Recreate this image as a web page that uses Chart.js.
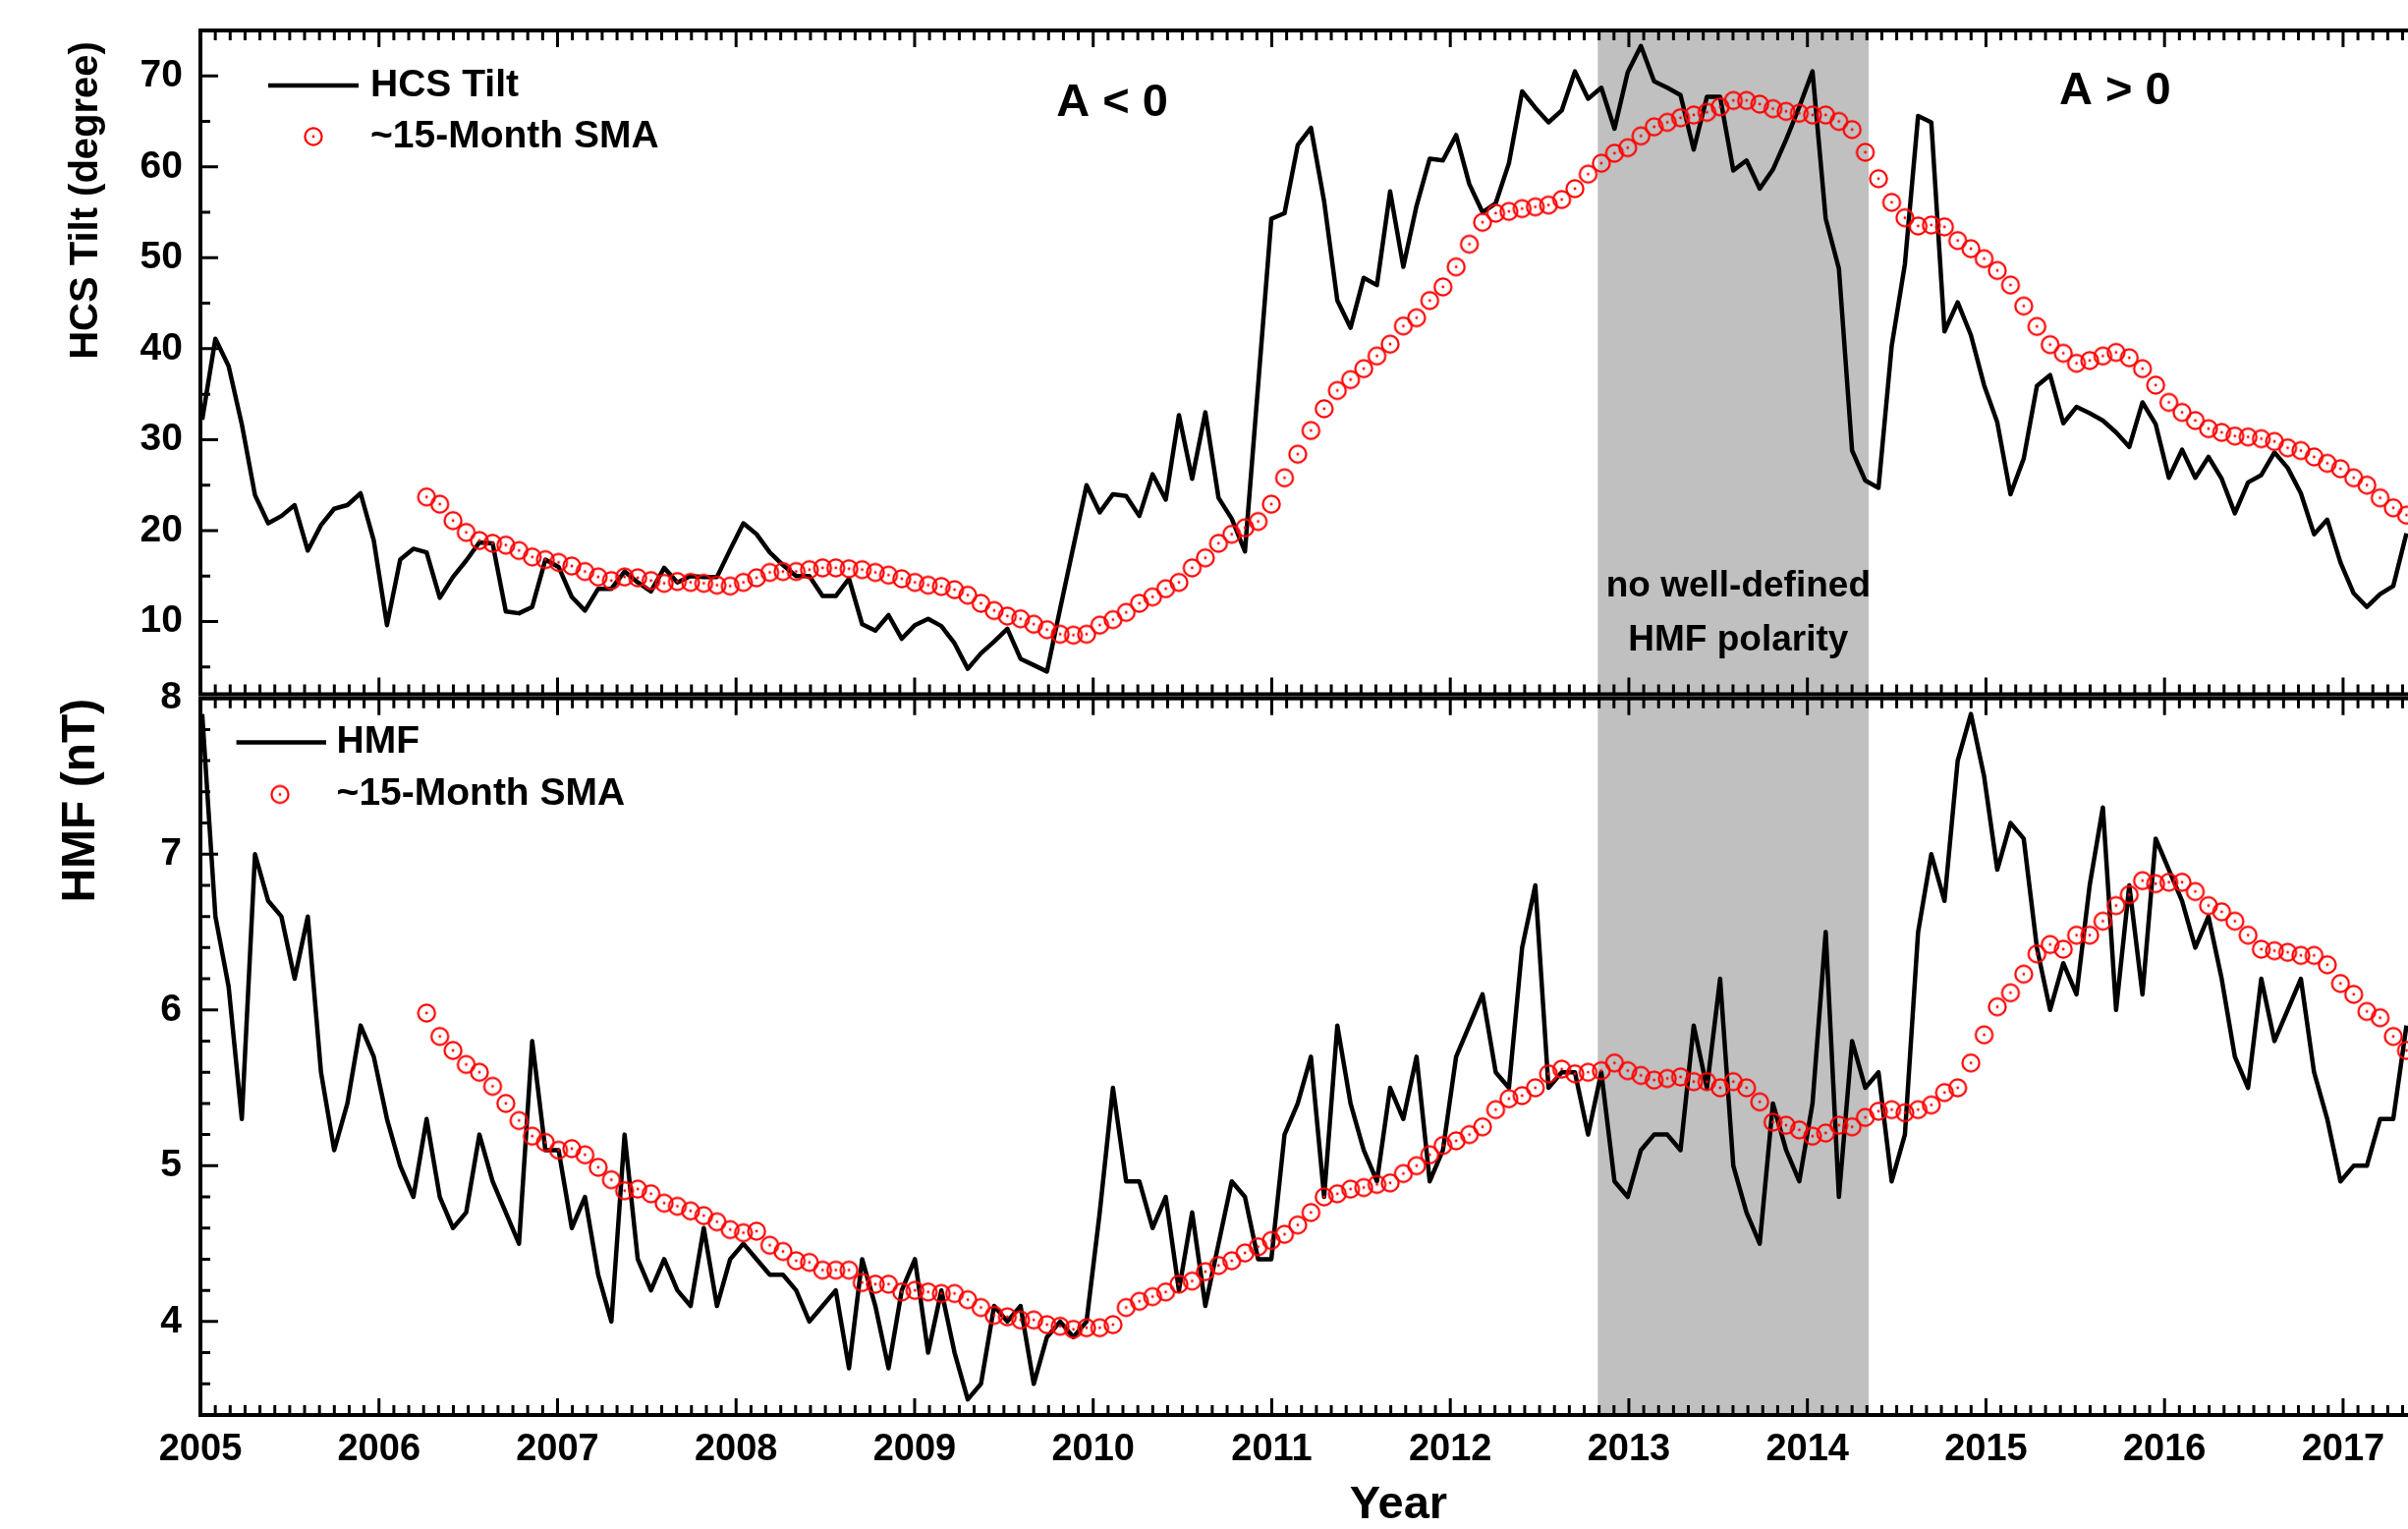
<!DOCTYPE html>
<html>
<head>
<meta charset="utf-8">
<title>HCS tilt and HMF, 2005-2017</title>
<script src="https://cdn.jsdelivr.net/npm/chart.js@4.4.0/dist/chart.umd.min.js"></script>
<style>
  html, body { margin: 0; padding: 0; background: #fff; overflow: hidden; }
  #wrap { position: relative; width: 2451px; height: 1556px; overflow: hidden; }
  #tilt_graph { position: absolute; left: 0; top: 0; }
  #hmf_graph { position: absolute; left: 0; top: 660px; }
</style>
</head>
<body>
<div id="wrap">
  <canvas id="tilt_graph" width="2700" height="720"></canvas>
  <canvas id="hmf_graph" width="2700" height="900"></canvas>
</div>
<script>
// 27-day rotations, first one just after 2005.0
const rotationStart = 2005.01;
const rotationYears = 27 / 365.25;
const smaStart = 17; // the moving average starts at rotation 17

const yearTicks = [2005, 2006, 2007, 2008, 2009, 2010, 2011, 2012, 2013, 2014, 2015, 2016, 2017, 2018];
const tiltTicks = [10, 20, 30, 40, 50, 60, 70];
const hmfTicks = [4, 5, 6, 7, 8];
const noPolarity = [2012.826, 2014.343];

const tiltValues = [
  32.2, 41.1, 38.1, 31.7, 23.9, 20.8, 21.6, 22.8, 17.8, 20.6,
  22.4, 22.8, 24.1, 18.9, 9.6, 16.8, 18.0, 17.6, 12.6, 14.9,
  16.7, 18.7, 18.6, 11.1, 10.9, 11.6, 16.8, 16.0, 12.7, 11.2,
  13.6, 13.6, 15.5, 14.3, 13.3, 15.9, 14.3, 15.0, 14.9, 14.9,
  17.9, 20.8, 19.6, 17.6, 16.2, 15.0, 15.0, 12.8, 12.8, 14.7,
  9.7, 9.0, 10.7, 8.1, 9.6, 10.3, 9.5, 7.6, 4.8, 6.5,
  7.8, 9.2, 5.9, 5.2, 4.5, 11.4, 18.2, 25.0, 22.0, 24.0,
  23.8, 21.6, 26.2, 23.4, 32.7, 25.7, 33.0, 23.6, 21.3, 17.7,
  36.0, 54.3, 54.9, 62.4, 64.3, 56.2, 45.3, 42.3, 47.8, 47.0,
  57.3, 49.0, 55.7, 60.9, 60.7, 63.5, 58.1, 55.0, 56.0, 60.4,
  68.3, 66.5, 64.9, 66.2, 70.5, 67.5, 68.7, 64.2, 70.4, 73.3,
  69.4, 68.7, 67.9, 61.9, 67.7, 67.7, 59.6, 60.7, 57.6, 59.7,
  63.0, 66.6, 70.5, 54.3, 48.8, 28.8, 25.5, 24.7, 40.3, 49.3,
  65.6, 64.9, 41.9, 45.1, 41.5, 36.0, 31.9, 24.0, 27.9, 35.9,
  37.1, 31.8, 33.6, 32.9, 32.1, 30.8, 29.2, 34.1, 31.7, 25.8,
  28.9, 25.8, 28.1, 25.7, 21.9, 25.3, 26.1, 28.6, 26.9, 24.1,
  19.6, 21.2, 16.5, 13.1, 11.6, 13.0, 13.9, 19.7
];

const tiltSmaValues = [
  23.7, 22.9, 21.1, 19.8, 18.9, 18.6, 18.4, 17.8, 17.1, 16.8,
  16.5, 16.1, 15.5, 14.9, 14.5, 14.9, 14.8, 14.5, 14.2, 14.4,
  14.3, 14.2, 14.0, 13.9, 14.3, 14.8, 15.4, 15.5, 15.5, 15.7,
  15.9, 15.9, 15.8, 15.7, 15.4, 15.1, 14.7, 14.3, 14.0, 13.85,
  13.5, 12.9, 12.0, 11.2, 10.6, 10.3, 9.7, 9.1, 8.6, 8.5,
  8.6, 9.6, 10.2, 11.0, 12.0, 12.7, 13.6, 14.3, 15.9, 17.0,
  18.6, 19.6, 20.3, 21.0, 22.9, 25.8, 28.4, 31.0, 33.4, 35.4,
  36.6, 37.8, 39.2, 40.5, 42.5, 43.4, 45.3, 46.8, 49.0, 51.5,
  53.9, 54.9, 55.1, 55.4, 55.6, 55.8, 56.4, 57.6, 59.2, 60.4,
  61.5, 62.1, 63.4, 64.4, 64.9, 65.4, 65.7, 66.0, 66.6, 67.3,
  67.3, 66.9, 66.4, 66.1, 65.9, 65.7, 65.7, 65.0, 64.1, 61.6,
  58.7, 56.1, 54.4, 53.5, 53.6, 53.4, 51.9, 51.0, 49.9, 48.6,
  47.0, 44.7, 42.45, 40.45, 39.5, 38.4, 38.7, 39.2, 39.6, 39.0,
  37.8, 36.0, 34.1, 33.0, 32.1, 31.2, 30.8, 30.4, 30.3, 30.1,
  29.8, 29.1, 28.8, 28.1, 27.4, 26.8, 25.8, 25.0, 23.6, 22.5,
  21.7
];

const hmfValues = [
  7.9, 6.6, 6.15, 5.3, 7.0, 6.7, 6.6, 6.2, 6.6, 5.6,
  5.1, 5.4, 5.9, 5.7, 5.3, 5.0, 4.8, 5.3, 4.8, 4.6,
  4.7, 5.2, 4.9, 4.7, 4.5, 5.8, 5.1, 5.1, 4.6, 4.8,
  4.3, 4.0, 5.2, 4.4, 4.2, 4.4, 4.2, 4.1, 4.6, 4.1,
  4.4, 4.5, 4.4, 4.3, 4.3, 4.2, 4.0, 4.1, 4.2, 3.7,
  4.4, 4.1, 3.7, 4.2, 4.4, 3.8, 4.2, 3.8, 3.5, 3.6,
  4.1, 4.0, 4.1, 3.6, 3.9, 4.0, 3.9, 4.0, 4.7, 5.5,
  4.9, 4.9, 4.6, 4.8, 4.2, 4.7, 4.1, 4.5, 4.9, 4.8,
  4.4, 4.4, 5.2, 5.4, 5.7, 4.8, 5.9, 5.4, 5.1, 4.9,
  5.5, 5.3, 5.7, 4.9, 5.1, 5.7, 5.9, 6.1, 5.6, 5.5,
  6.4, 6.8, 5.5, 5.6, 5.6, 5.2, 5.6, 4.9, 4.8, 5.1,
  5.2, 5.2, 5.1, 5.9, 5.5, 6.2, 5.0, 4.7, 4.5, 5.4,
  5.1, 4.9, 5.4, 6.5, 4.8, 5.8, 5.5, 5.6, 4.9, 5.2,
  6.5, 7.0, 6.7, 7.6, 7.9, 7.5, 6.9, 7.2, 7.1, 6.4,
  6.0, 6.3, 6.1, 6.8, 7.3, 6.0, 6.8, 6.1, 7.1, 6.9,
  6.7, 6.4, 6.6, 6.2, 5.7, 5.5, 6.2, 5.8, 6.0, 6.2,
  5.6, 5.3, 4.9, 5.0, 5.0, 5.3, 5.3, 5.9
];

const hmfSmaValues = [
  5.98, 5.83, 5.74, 5.65, 5.60, 5.51, 5.40, 5.29, 5.19, 5.15,
  5.10, 5.11, 5.07, 4.99, 4.91, 4.84, 4.85, 4.82, 4.76, 4.74,
  4.71, 4.68, 4.64, 4.59, 4.57, 4.58, 4.49, 4.45, 4.39, 4.38,
  4.33, 4.33, 4.33, 4.25, 4.24, 4.24, 4.19, 4.20, 4.19, 4.18,
  4.18, 4.14, 4.09, 4.04, 4.03, 4.01, 4.01, 3.98, 3.97, 3.95,
  3.96, 3.96, 3.98, 4.09, 4.13, 4.16, 4.19, 4.24, 4.26, 4.32,
  4.36, 4.39, 4.44, 4.48, 4.52, 4.56, 4.62, 4.70, 4.80, 4.82,
  4.85, 4.86, 4.88, 4.89, 4.95, 5.00, 5.07, 5.13, 5.16, 5.20,
  5.25, 5.36, 5.43, 5.45, 5.50, 5.59, 5.62, 5.59, 5.60, 5.61,
  5.66, 5.61, 5.58, 5.55, 5.56, 5.57, 5.54, 5.54, 5.50, 5.54,
  5.50, 5.41, 5.28, 5.26, 5.23, 5.19, 5.21, 5.26, 5.25, 5.31,
  5.35, 5.36, 5.34, 5.36, 5.39, 5.47, 5.50, 5.66, 5.84, 6.02,
  6.11, 6.23, 6.36, 6.42, 6.39, 6.48, 6.48, 6.57, 6.67, 6.74,
  6.83, 6.81, 6.82, 6.82, 6.76, 6.67, 6.63, 6.57, 6.48, 6.39,
  6.38, 6.37, 6.35, 6.35, 6.29, 6.17, 6.10, 5.99, 5.95, 5.83,
  5.74
];

const fontFamily = '"Liberation Sans", Arial, sans-serif';
Chart.defaults.font.family = fontFamily;
Chart.defaults.color = '#000';

function toPoints(values, first) {
  return values.map((v, i) => ({x: rotationStart + (first + i) * rotationYears, y: v}));
}

// open red circle with a dot in the middle, like the Origin symbol
function makeRing() {
  const c = document.createElement('canvas');
  c.width = 24;
  c.height = 24;
  const g = c.getContext('2d');
  g.strokeStyle = '#ff0000';
  g.fillStyle = '#ff0000';
  g.lineWidth = 2.2;
  g.beginPath();
  g.arc(12, 12, 8.6, 0, Math.PI * 2);
  g.stroke();
  g.beginPath();
  g.arc(12, 12, 1.4, 0, Math.PI * 2);
  g.fill();
  return c;
}
const ring = makeRing();

// shaded band, legend, notes, box and inward ticks
const panelDecor = {
  id: 'panelDecor',
  beforeDatasetsDraw(chart) {
    const {ctx, chartArea: a, scales: {x}} = chart;
    const x0 = x.getPixelForValue(noPolarity[0]);
    const x1 = x.getPixelForValue(noPolarity[1]);
    ctx.save();
    ctx.fillStyle = '#c0c0c0';
    ctx.fillRect(x0, a.top, x1 - x0, a.bottom - a.top);
    ctx.restore();
  },
  afterDatasetsDraw(chart, args, opts) {
    const {ctx, chartArea: a, scales: {x, y}} = chart;
    const ds = chart.data.datasets;
    ctx.save();
    ctx.fillStyle = '#000';

    ctx.textAlign = 'center';
    ctx.textBaseline = 'alphabetic';
    (opts.notes || []).forEach(n => {
      ctx.font = `bold ${n.size}px ${fontFamily}`;
      ctx.fillText(n.text, x.getPixelForValue(n.x), y.getPixelForValue(n.y));
    });

    const lg = opts.legend;
    const r1 = a.top + lg.rows[0];
    const r2 = a.top + lg.rows[1];
    ctx.strokeStyle = '#000';
    ctx.lineWidth = 4.5;
    ctx.beginPath();
    ctx.moveTo(a.left + lg.line[0], r1);
    ctx.lineTo(a.left + lg.line[1], r1);
    ctx.stroke();
    ctx.drawImage(ring, a.left + lg.marker - ring.width / 2, r2 - ring.height / 2);
    ctx.font = `bold 39px ${fontFamily}`;
    ctx.textAlign = 'left';
    ctx.textBaseline = 'middle';
    ctx.fillText(ds[0].label, a.left + lg.text, r1);
    ctx.fillText(ds[1].label, a.left + lg.text, r2);

    ctx.lineWidth = 3;
    ctx.beginPath();
    yearTicks.forEach(year => {
      for (let m = 0; m < 12; m++) {
        const px = x.getPixelForValue(year + m / 12);
        if (px > a.right) continue;
        const len = m === 0 ? 17 : 10;
        ctx.moveTo(px, a.top);
        ctx.lineTo(px, a.top + len);
        ctx.moveTo(px, a.bottom);
        ctx.lineTo(px, a.bottom - len);
      }
    });
    const k0 = Math.ceil(y.min / opts.minorStep - 1e-6);
    const k1 = Math.floor(y.max / opts.minorStep + 1e-6);
    for (let k = k0; k <= k1; k++) {
      const v = k * opts.minorStep;
      const major = opts.majorTicks.some(t => Math.abs(t - v) < 1e-6);
      const py = y.getPixelForValue(v);
      ctx.moveTo(a.left, py);
      ctx.lineTo(a.left + (major ? 18 : 10), py);
    }
    ctx.stroke();

    ctx.lineWidth = 4;
    ctx.strokeRect(a.left, a.top, a.right - a.left, a.bottom - a.top);
    ctx.restore();
  }
};

function fixedTicks(list) {
  return scale => { scale.ticks = list.map(v => ({value: v})); };
}

function createPanel(id, cfg) {
  const xAxis = {
    type: 'linear',
    min: 2005,
    max: 2018.42,
    display: cfg.showYears,
    afterBuildTicks: fixedTicks(yearTicks),
    afterFit: s => { s.height = cfg.xHeight; s.paddingLeft = 0; s.paddingRight = 0; },
    grid: {display: false, drawTicks: false},
    border: {display: false},
    ticks: {
      autoSkip: false,
      maxRotation: 0,
      padding: 13,
      font: {size: 38, weight: 'bold'},
      callback: v => String(v)
    },
    title: {
      display: true,
      text: 'Year',
      font: {size: 47, weight: 'bold'},
      padding: {top: 0, bottom: 0}
    }
  };

  const yAxis = {
    min: cfg.yMin,
    max: cfg.yMax,
    afterBuildTicks: fixedTicks(cfg.ticks),
    afterFit: s => { s.width = 204; s.paddingTop = 0; s.paddingBottom = 0; },
    grid: {display: false, drawTicks: false},
    border: {display: false},
    ticks: {padding: cfg.tickPad, font: {size: 39, weight: 'bold'}},
    title: {
      display: true,
      text: cfg.yTitle,
      align: 'end',
      font: {size: cfg.yTitleSize, weight: 'bold'},
      padding: {top: cfg.yTitlePad, bottom: 0}
    }
  };

  const data = {
    datasets: [{
      label: cfg.label,
      data: toPoints(cfg.values, 0),
      borderColor: '#000',
      borderWidth: 4.5,
      borderJoinStyle: 'round',
      pointRadius: 0,
      tension: 0,
      fill: false,
      order: 2
    }, {
      label: '~15-Month SMA',
      data: toPoints(cfg.sma, smaStart),
      showLine: false,
      pointStyle: ring,
      pointRadius: 9,
      order: 1
    }]
  };

  new Chart(document.getElementById(id), {
    type: 'line',
    data,
    options: {
      responsive: false,
      animation: false,
      devicePixelRatio: 1,
      events: [],
      layout: {padding: cfg.padding},
      scales: {x: xAxis, y: yAxis},
      plugins: {
        legend: {display: false},
        tooltip: {enabled: false},
        panelDecor: {
          legend: cfg.legend,
          notes: cfg.notes,
          majorTicks: cfg.ticks,
          minorStep: cfg.minorStep
        }
      }
    },
    plugins: [panelDecor]
  });
}

createPanel('tilt_graph', {
  label: 'HCS Tilt',
  values: tiltValues,
  sma: tiltSmaValues,
  yMin: 2,
  yMax: 75,
  ticks: tiltTicks,
  minorStep: 5,
  tickPad: 18,
  yTitle: 'HCS Tilt (degree)\u00a0',
  yTitleSize: 40,
  yTitlePad: 64,
  showYears: false,
  xHeight: 0,
  padding: {top: 31, bottom: 13.5, left: 0, right: 57},
  legend: {rows: [56, 108], line: [69, 161], marker: 115, text: 173},
  notes: [
    {text: 'A < 0', x: 2010.106, y: 65.65, size: 47},
    {text: 'A > 0', x: 2015.723, y: 66.94, size: 47},
    {text: 'no well-defined', x: 2013.613, y: 12.73, size: 37},
    {text: 'HMF polarity', x: 2013.613, y: 6.78, size: 37}
  ]
});

createPanel('hmf_graph', {
  label: 'HMF',
  values: hmfValues,
  sma: hmfSmaValues,
  yMin: 3.4,
  yMax: 8,
  ticks: hmfTicks,
  minorStep: 0.2,
  tickPad: 19,
  yTitle: 'HMF (nT)',
  yTitleSize: 48,
  yTitlePad: 54,
  showYears: true,
  xHeight: 120,
  padding: {top: 50.7, bottom: 0, left: 0, right: 57},
  legend: {rows: [44.7, 97.8], line: [36.6, 128], marker: 81, text: 138.6},
  notes: []
});
</script>
</body>
</html>
